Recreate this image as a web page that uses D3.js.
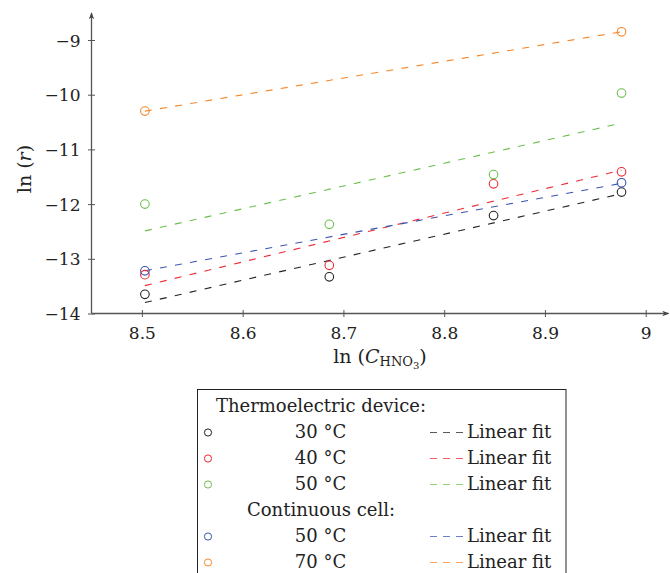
<!DOCTYPE html>
<html><head><meta charset="utf-8">
<script src="https://cdn.jsdelivr.net/npm/d3@7"></script>
<style>
body{margin:0;background:#fff;}
svg{display:block;font-family:"DejaVu Serif",serif;}
</style></head>
<body><svg id="c" width="670" height="573"></svg>
<script>
// ---- data ----
const xTE = [8.503, 8.686, 8.849, 8.976];
const yTE30 = [-13.65, -13.33, -12.21, -11.78];
const yTE40 = [-13.29, -13.12, -11.63, -11.41];
const yTE50 = [-12.00, -12.37, -11.46, -9.97];
const xCC = [8.503, 8.976];
const yCC50 = [-13.22, -11.61];
const yCC70 = [-10.30, -8.85];
const fitX = [8.503, 8.976];
const fitTE30 = [-13.80, -11.81];
const fitTE40 = [-13.49, -11.38];
const fitTE50 = [-12.49, -10.52];
const fitCC50 = [-13.22, -11.62];
const fitCC70 = [-10.30, -8.85];
const xTicks = [8.5, 8.6, 8.7, 8.8, 8.9, 9];
const yTicks = [-14, -13, -12, -11, -10, -9];
const groupLabels = ["Thermoelectric device:", "Continuous cell:"];
const seriesLabels = ["30 °C", "40 °C", "50 °C", "50 °C", "70 °C"];
const fitLabel = "Linear fit";

const colors = ["#222222", "#ee2a35", "#6cbf4e", "#3a55b0", "#f5862a"];
const series = [
  {x: xTE, y: yTE30, fx: fitX, fy: fitTE30},
  {x: xTE, y: yTE40, fx: fitX, fy: fitTE40},
  {x: xTE, y: yTE50, fx: fitX, fy: fitTE50},
  {x: xCC, y: yCC50, fx: fitX, fy: fitCC50},
  {x: xCC, y: yCC70, fx: fitX, fy: fitCC70}
];

const svg = d3.select("#c");
const x = d3.scaleLinear().domain([8.45, 9.0]).range([91.5, 645.7]);
const y = d3.scaleLinear().domain([-14, -9]).range([313.5, 40]);
const axisColor = "#555";
const fmt = d3.format("~g");

// axes
const xAxis = svg.append("g").attr("transform", "translate(0,313.5)")
  .call(d3.axisBottom(x).tickValues(xTicks).tickFormat(fmt).tickSize(3.5).tickPadding(0));
xAxis.select(".domain").remove();
xAxis.selectAll(".tick line").attr("y1", -3.5).attr("y2", 3.5).attr("stroke", axisColor);
xAxis.selectAll(".tick text").attr("y", 25).attr("dy", null)
  .style("font-size", "17px").style("font-family", "DejaVu Serif").attr("fill", "#222");

const yAxis = svg.append("g").attr("transform", "translate(91.5,0)")
  .call(d3.axisLeft(y).tickValues(yTicks).tickFormat(fmt).tickSize(3.5).tickPadding(0));
yAxis.select(".domain").remove();
yAxis.selectAll(".tick line").attr("x1", -3.5).attr("x2", 3.5).attr("stroke", axisColor);
yAxis.selectAll(".tick text").attr("x", -11).attr("dy", "0.36em")
  .style("font-size", "17px").style("font-family", "DejaVu Serif").attr("fill", "#222");

// axis lines with arrows
svg.append("defs").append("marker").attr("id", "arr")
  .attr("viewBox", "0 0 10 10").attr("refX", 8).attr("refY", 5)
  .attr("markerWidth", 6).attr("markerHeight", 6).attr("orient", "auto")
  .append("path").attr("d", "M0,1.5 L9,5 L0,8.5 L2.5,5 Z").attr("fill", "#444");
svg.append("line").attr("x1", x.range()[0]).attr("y1", y(-14)).attr("x2", 668.5).attr("y2", y(-14))
  .attr("stroke", axisColor).attr("stroke-width", 1.3).attr("marker-end", "url(#arr)");
svg.append("line").attr("x1", x.range()[0]).attr("y1", y(-14)).attr("x2", x.range()[0]).attr("y2", 13)
  .attr("stroke", axisColor).attr("stroke-width", 1.3).attr("marker-end", "url(#arr)");

// fit lines
const line = d3.line().x(d => x(d[0])).y(d => y(d[1]));
series.forEach((s, i) => {
  svg.append("path").attr("d", line(s.fx.map((v, j) => [v, s.fy[j]])))
    .attr("fill", "none").attr("stroke", colors[i]).attr("stroke-width", 1.1)
    .attr("stroke-dasharray", "7,8.3");
});
// markers
series.forEach((s, i) => {
  svg.append("g").selectAll("circle").data(s.x.map((v, j) => [v, s.y[j]])).join("circle")
    .attr("cx", d => x(d[0])).attr("cy", d => y(d[1])).attr("r", 4.3)
    .attr("fill", "none").attr("stroke", colors[i]).attr("stroke-width", 1.1);
});

// axis labels
const xl = svg.append("text").attr("x", 380).attr("y", 363).attr("text-anchor", "middle")
  .style("font-size", "19px").attr("fill", "#222");
xl.append("tspan").text("ln (");
xl.append("tspan").text("C").style("font-style", "italic");
xl.append("tspan").text("HNO").style("font-size", "13px").attr("dy", 3);
xl.append("tspan").text("3").style("font-size", "10px").attr("dy", 3);
xl.append("tspan").text(")").attr("dy", -6);

const yl = svg.append("text").attr("transform", "translate(31,169) rotate(-90)")
  .attr("text-anchor", "middle").style("font-size", "19px").attr("fill", "#222");
yl.append("tspan").text("ln (");
yl.append("tspan").text("r").style("font-style", "italic");
yl.append("tspan").text(")");

// legend
const lg = svg.append("g");
lg.append("rect").attr("x", 197.5).attr("y", 389.5).attr("width", 368.5).attr("height", 200)
  .attr("fill", "#fff").attr("stroke", "#222").attr("stroke-width", 1);
const rowY = [412, 438, 464, 490, 516, 542, 568];
const rows = [
  {type: "h", t: groupLabels[0]},
  {type: "s", i: 0}, {type: "s", i: 1}, {type: "s", i: 2},
  {type: "h", t: groupLabels[1]},
  {type: "s", i: 3}, {type: "s", i: 4}
];
rows.forEach((r, k) => {
  const by = rowY[k];
  if (r.type === "h") {
    lg.append("text").attr("x", 321).attr("y", by).attr("text-anchor", "middle")
      .style("font-size", "18px").attr("fill", "#222").text(r.t);
  } else {
    lg.append("circle").attr("cx", 208).attr("cy", by - 5.5).attr("r", 3.6)
      .attr("fill", "none").attr("stroke", colors[r.i]).attr("stroke-width", 1);
    lg.append("text").attr("x", 320.5).attr("y", by).attr("text-anchor", "middle")
      .style("font-size", "18px").attr("fill", "#222").text(seriesLabels[r.i]);
    lg.append("line").attr("x1", 430).attr("x2", 464).attr("y1", by - 5.5).attr("y2", by - 5.5)
      .attr("stroke", colors[r.i]).attr("stroke-width", 1).attr("stroke-opacity", 0.75)
      .attr("stroke-dasharray", "7,6");
    lg.append("text").attr("x", 467).attr("y", by)
      .style("font-size", "18px").attr("fill", "#222").text(fitLabel);
  }
});
</script></body></html>
